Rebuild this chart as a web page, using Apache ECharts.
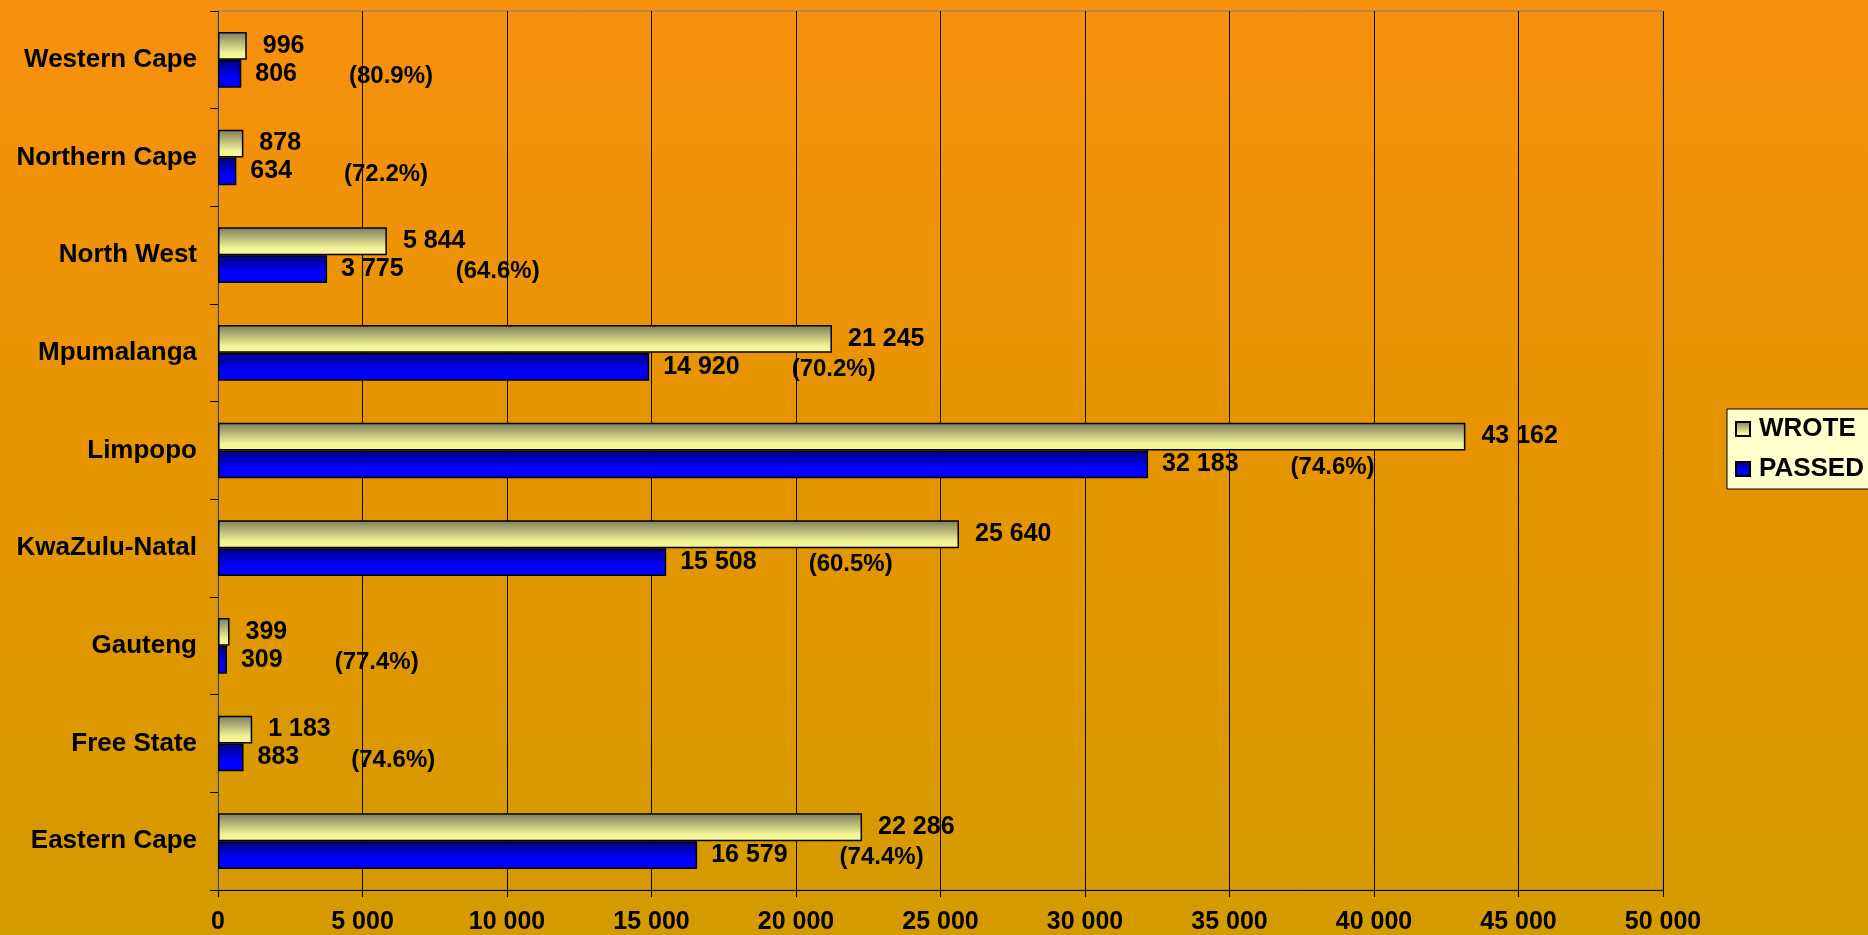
<!DOCTYPE html>
<html>
<head>
<meta charset="utf-8">
<script src="https://cdn.jsdelivr.net/npm/echarts@6/dist/echarts.min.js"></script>
<style>
html,body{margin:0;padding:0;}
#chart{width:1868px;height:935px;}
</style>
</head>
<body>
<div id="chart"></div>
<script>
const categories = ['Eastern Cape','Free State','Gauteng','KwaZulu-Natal','Limpopo','Mpumalanga','North West','Northern Cape','Western Cape'];
const wrote = [22286, 1183, 399, 25640, 43162, 21245, 5844, 878, 996];
const passed = [16579, 883, 309, 15508, 32183, 14920, 3775, 634, 806];
const passRate = ['74.4%','74.6%','77.4%','60.5%','74.6%','70.2%','64.6%','72.2%','80.9%'];
const xTicks = {min: 0, max: 50000, interval: 5000};

const fmt = v => String(v).replace(/\B(?=(\d{3})+(?!\d))/g, ' ');
const FONT = '"Liberation Sans", Arial, sans-serif';

const chart = echarts.init(document.getElementById('chart'), null, {renderer: 'canvas'});
chart.setOption({
  animation: false,
  backgroundColor: new echarts.graphic.LinearGradient(0, 0, 0, 1, [
    {offset: 0, color: '#f8900f'},
    {offset: 0.5, color: '#e59500'},
    {offset: 1, color: '#d49b00'}
  ]),
  textStyle: {fontFamily: FONT},
  grid: {left: 218, right: 205, top: 11, bottom: 45, show: true, borderColor: '#808080', borderWidth: 1, backgroundColor: 'transparent'},
  legend: {
    orient: 'vertical',
    left: 1727, top: 409,
    backgroundColor: '#ffffcc',
    borderColor: '#000', borderWidth: 1,
    padding: [7, 12, 7, 8],
    itemWidth: 14, itemHeight: 14, itemGap: 14,
    icon: 'rect',
    data: ['WROTE', 'PASSED'],
    textStyle: {fontSize: 26, fontWeight: 'bold', color: '#000', fontFamily: FONT, padding: [0, 0, 0, 4]}
  },
  xAxis: {
    type: 'value',
    min: xTicks.min, max: xTicks.max, interval: xTicks.interval,
    axisLine: {show: true, lineStyle: {color: '#000', width: 1}},
    axisTick: {show: true, length: 7, lineStyle: {color: '#000'}},
    splitLine: {show: true, lineStyle: {color: '#000', width: 1}},
    axisLabel: {
      formatter: v => fmt(v), fontSize: 25, fontWeight: 'bold', color: '#000', margin: 20,
      fontFamily: FONT
    }
  },
  yAxis: {
    type: 'category',
    data: categories,
    axisLine: {show: true, lineStyle: {color: '#404040', width: 1}},
    axisTick: {show: true, length: 8, lineStyle: {color: '#000'}},
    axisLabel: {fontSize: 26, fontWeight: 'bold', color: '#000', margin: 21}
  },
  series: [
    {
      name: 'WROTE', type: 'bar', data: wrote,
      barGap: '0%', barCategoryGap: '43%',
      itemStyle: {
        borderColor: '#000', borderWidth: 1.5,
        color: new echarts.graphic.LinearGradient(0, 0, 0, 1, [
          {offset: 0, color: '#7c7c5c'},
          {offset: 0.75, color: '#f2f296'},
          {offset: 1, color: '#f6f69e'}
        ])
      },
      label: {
        show: true, position: 'right', distance: 16,
        formatter: p => fmt(p.value),
        fontSize: 25, fontWeight: 'bold', color: '#000'
      }
    },
    {
      name: 'PASSED', type: 'bar', data: passed,
      barGap: '0%', barCategoryGap: '43%',
      itemStyle: {
        borderColor: '#000', borderWidth: 1.5,
        color: new echarts.graphic.LinearGradient(0, 0, 0, 1, [
          {offset: 0, color: '#000080'},
          {offset: 0.65, color: '#0000ff'},
          {offset: 1, color: '#0000ff'}
        ])
      },
      label: {
        show: true, position: 'right', distance: 14,
        formatter: p => '{v|' + fmt(p.value) + '}{p|(' + passRate[p.dataIndex] + ')}',
        rich: {
          v: {fontSize: 25, fontWeight: 'bold', color: '#000', fontFamily: FONT},
          p: {fontSize: 24, fontWeight: 'bold', color: '#000', fontFamily: FONT, padding: [5, 0, 0, 52]}
        }
      }
    }
  ]
});
</script>
</body>
</html>
